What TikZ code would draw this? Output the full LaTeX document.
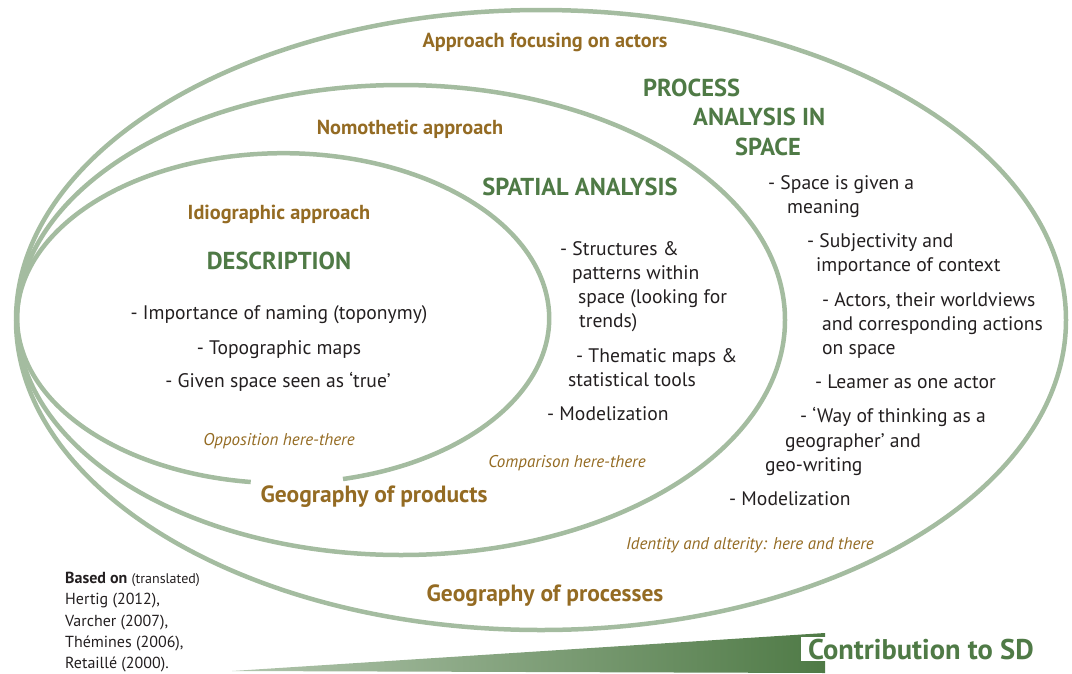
\documentclass[tikz,border=0pt]{standalone}
\usepackage{fontspec}
\setmainfont{PT Sans}
\usetikzlibrary{positioning}
\definecolor{sage}{HTML}{A4BCA0}
\definecolor{ochre}{HTML}{946B23}
\definecolor{leaf}{HTML}{4F7A46}
\definecolor{ink}{HTML}{231F20}
\definecolor{paleleaf}{HTML}{B2C6AE}

\begin{document}
\begin{tikzpicture}[x=1pt,y=-1pt,
  ring/.style={draw=sage, line width=4.5pt},
  head/.style={text=ochre, font=\bfseries\fontsize{20.3}{23}\selectfont, inner sep=0pt, anchor=base},
  bighead/.style={head, font=\bfseries\fontsize{23.5}{27}\selectfont},
  title/.style={text=leaf, font=\bfseries\fontsize{24.5}{28}\selectfont, inner sep=0pt, anchor=base},
  item/.style={text=ink, font=\fontsize{19.6}{23}\selectfont, inner sep=0pt, anchor=base west},
  note/.style={text=ochre, font=\itshape\fontsize{17}{20}\selectfont, inner sep=0pt, anchor=base},
  ref/.style={text=ink, font=\fontsize{16}{19}\selectfont, inner sep=0pt, anchor=base west}]
  \useasboundingbox (0,0) rectangle (1072,673);

  % nested approaches
  \draw[ring] (541,320) ellipse [x radius=525pt, y radius=310pt];
  \draw[ring] (401,320) ellipse [x radius=384pt, y radius=235pt];
  \draw[ring] (343,479) arc [start angle=-77, end angle=263, x radius=266pt, y radius=165pt];

  % contribution wedge
  \shade[left color=paleleaf, right color=leaf] (232,671) -- (825,633) -- (825,673) -- cycle;
  \node[text=leaf, fill=white, font=\bfseries\fontsize{28.5}{32}\selectfont, anchor=base west,
        inner xsep=7pt, inner ysep=2pt] (sd) at (801,659) {Contribution to SD};

  % outer ring
  \node[head] (actors) at (545,47) {Approach focusing on actors};
  \node[title, anchor=base west] (pr1) at (643,96) {PROCESS};
  \node[title, anchor=base west] (pr2) at (693,125) {ANALYSIS IN};
  \node[title, anchor=base west] (pr3) at (735,155) {SPACE};
  \foreach \x/\y/\t [count=\i] in {768/189/{- Space is given a}, 787/213/{meaning},
      807/247/{- Subjectivity and}, 816/271/{importance of context},
      822/306/{- Actors, their worldviews}, 822/330/{and corresponding actions},
      822/354/{on space}, 815/388/{- Leamer as one actor},
      800/422/{- ‘Way of thinking as a}, 785/447/{geographer’ and},
      765/471/{geo-writing}, 729/505/{- Modelization}}
    \node[item] (pi\i) at (\x,\y) {\t};
  \node[note] (identity) at (750,549) {Identity and alterity: here and there};
  \node[bighead] (processes) at (545,601) {Geography of processes};

  % middle ring
  \node[head] (nomo) at (410,134) {Nomothetic approach};
  \node[title] (spatial) at (580,195) {SPATIAL ANALYSIS};
  \foreach \x/\y/\t [count=\i] in {560/255/{- Structures \&}, 572/279/{patterns within},
      578/303/{space (looking for}, 579/327/{trends)},
      576/362/{- Thematic maps \&}, 568/386/{statistical tools},
      547/420/{- Modelization}}
    \node[item] (si\i) at (\x,\y) {\t};
  \node[note] (compare) at (567,467) {Comparison here-there};
  \node[bighead] (products) at (374,502) {Geography of products};

  % inner ring
  \node[head] (idio) at (279,219) {Idiographic approach};
  \node[title] (desc) at (279,269) {DESCRIPTION};
  \node[item, anchor=base] (di1) at (279,319) {- Importance of naming (toponymy)};
  \node[item, anchor=base] (di2) at (279,354) {- Topographic maps};
  \node[item, anchor=base] (di3) at (278,387) {- Given space seen as ‘true’};
  \node[note] (oppose) at (279,445) {Opposition here-there};

  % sources
  \node[ref] (src1) at (65,583) {\textbf{Based on} {\fontsize{14}{17}\selectfont(translated)}};
  \node[ref] (src2) at (65,604) {Hertig (2012),};
  \node[ref] (src3) at (65,626) {Varcher (2007),};
  \node[ref] (src4) at (65,647) {Thémines (2006),};
  \node[ref] (src5) at (65,668) {Retaillé (2000).};
\end{tikzpicture}
\end{document}
